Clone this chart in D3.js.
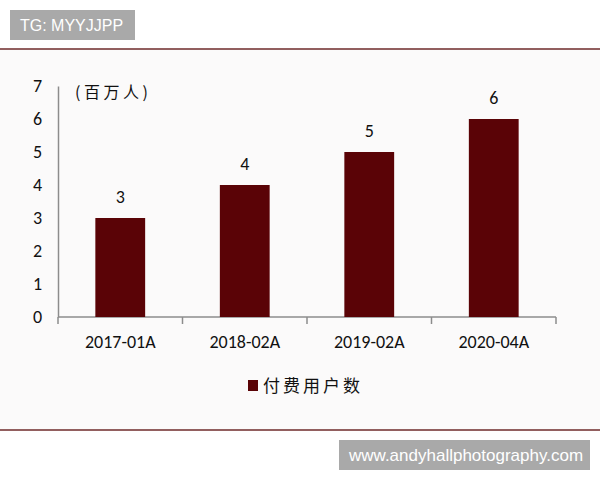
<!DOCTYPE html>
<html>
<head>
<meta charset="utf-8">
<script src="https://cdn.jsdelivr.net/npm/d3@7/dist/d3.min.js"></script>
<style>
  body { margin: 0; background: #fff; }
  svg { display: block; }
</style>
</head>
<body>
<svg id="chart" width="600" height="480"></svg>
<script>
// data
const categories = ['2017-01A', '2018-02A', '2019-02A', '2020-04A'];
const paidUsers = [3, 4, 5, 6];
const yTicks = [0, 1, 2, 3, 4, 5, 6, 7];
const unitLabel = '(百万人)';
const seriesName = '付费用户数';

// configs
const BAR_COLOR = '#5a0306';
const AXIS_COLOR = '#8c8c8c';
const RULE_COLOR = '#6e2a2a';
const CJK_SANS = '"Noto Sans CJK SC", "Noto Sans", sans-serif';
const LATIN = 'Carlito, Calibri, "Liberation Sans", "DejaVu Sans", sans-serif';

const svg = d3.select('#chart');

// panel background between the two rules
svg.append('rect')
	.attr('x', 0).attr('y', 49)
	.attr('width', 600).attr('height', 381)
	.attr('fill', '#fbfafa');

svg.append('line')
	.attr('x1', 0).attr('x2', 600)
	.attr('y1', 49).attr('y2', 49)
	.attr('stroke', RULE_COLOR).attr('stroke-width', 1.5);

svg.append('line')
	.attr('x1', 0).attr('x2', 600)
	.attr('y1', 430).attr('y2', 430)
	.attr('stroke', RULE_COLOR).attr('stroke-width', 1.5);

// grey tag boxes
function tag(x, y, w, h, text, size) {
	svg.append('rect')
		.attr('x', x).attr('y', y)
		.attr('width', w).attr('height', h)
		.attr('fill', '#a9a9a9');
	svg.append('text')
		.attr('x', x + 10).attr('y', y + h / 2)
		.attr('dy', '0.36em')
		.attr('fill', '#fff')
		.style('font-family', '"Liberation Sans", Arial, sans-serif')
		.style('font-size', size + 'px')
		.text(text);
}
tag(10, 10, 125, 30, 'TG: MYYJJPP', 16);
tag(339, 440, 251, 30, 'www.andyhallphotography.com', 17);

// scales
const x = d3.scaleBand()
	.domain(categories)
	.range([58, 556])
	.paddingInner(0.6)
	.paddingOuter(0.3);

const y = d3.scaleLinear()
	.domain([0, 7])
	.range([317, 86]);

// y axis
const yAxis = svg.append('g')
	.attr('transform', 'translate(58,0)')
	.call(d3.axisLeft(y).tickValues(yTicks).tickSize(0).tickPadding(16).tickFormat(d3.format('d')));
yAxis.select('.domain').attr('stroke', AXIS_COLOR).attr('stroke-width', 1.5);
yAxis.selectAll('text')
	.attr('fill', '#111')
	.style('font-family', LATIN)
	.style('font-size', '18px');

// x axis line with category boundary ticks
const xAxis = svg.append('g')
	.attr('transform', 'translate(0,317)')
	.call(d3.axisBottom(x).tickSize(0).tickPadding(18));
xAxis.select('.domain').remove();
xAxis.selectAll('text')
	.attr('fill', '#111')
	.style('font-family', LATIN)
	.style('font-size', '18px');

xAxis.append('line')
	.attr('x1', 58).attr('x2', 556)
	.attr('stroke', AXIS_COLOR).attr('stroke-width', 1.5);

const bounds = d3.range(categories.length + 1).map(i => 58 + i * (498 / categories.length));
xAxis.selectAll('line.bound')
	.data(bounds)
	.enter().append('line')
	.attr('class', 'bound')
	.attr('x1', d => d).attr('x2', d => d)
	.attr('y1', 0).attr('y2', 7)
	.attr('stroke', AXIS_COLOR).attr('stroke-width', 1.5);

// bars
svg.append('g')
	.selectAll('rect')
	.data(paidUsers)
	.enter().append('rect')
	.attr('x', (d, i) => x(categories[i]))
	.attr('y', d => y(d))
	.attr('width', x.bandwidth())
	.attr('height', d => y(0) - y(d))
	.attr('fill', BAR_COLOR);

// value labels
svg.append('g')
	.selectAll('text')
	.data(paidUsers)
	.enter().append('text')
	.attr('x', (d, i) => x(categories[i]) + x.bandwidth() / 2)
	.attr('y', d => y(d) - 21)
	.attr('dy', '0.36em')
	.attr('text-anchor', 'middle')
	.attr('fill', '#111')
	.style('font-family', LATIN)
	.style('font-size', '18px')
	.text(d => d);

// unit label
svg.append('text')
	.attr('x', 75).attr('y', 92)
	.attr('dy', '0.36em')
	.attr('fill', '#111')
	.style('font-family', CJK_SANS)
	.style('font-size', '16px')
	.style('letter-spacing', '3.5px')
	.text(unitLabel);

// legend
svg.append('rect')
	.attr('x', 248).attr('y', 380)
	.attr('width', 10).attr('height', 11)
	.attr('fill', BAR_COLOR);
svg.append('text')
	.attr('x', 263).attr('y', 386)
	.attr('dy', '0.36em')
	.attr('fill', '#111')
	.style('font-family', CJK_SANS)
	.style('font-size', '17px')
	.style('letter-spacing', '3px')
	.text(seriesName);
</script>
</body>
</html>
